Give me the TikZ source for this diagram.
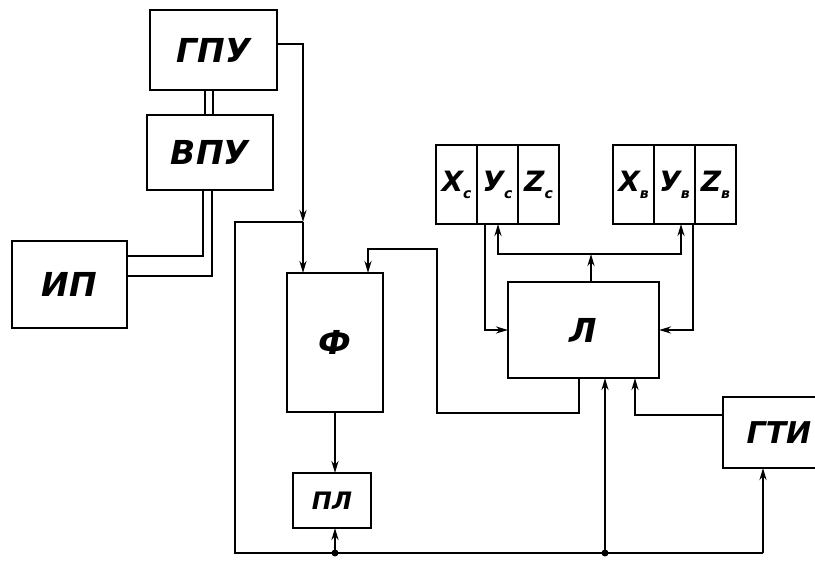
\documentclass[tikz,border=0pt]{standalone}
\usepackage{fontspec}
\setmainfont{DejaVu Sans}
\usetikzlibrary{arrows.meta,positioning}
\newcommand\lowidx[1]{\raisebox{-7pt}{\fontsize{14}{14}\selectfont #1}}

\begin{document}
\begin{tikzpicture}[x=1pt, y=-1pt, line width=2.8pt,
    >={Stealth[length=12pt,width=7pt]},
    blk/.style={draw, inner sep=0pt, outer sep=0pt,
      font=\bfseries\itshape\fontsize{33}{33}\selectfont},
    cell/.style={draw, inner sep=0pt, outer sep=0pt, minimum width=41pt,
      minimum height=79pt, font=\bfseries\itshape\fontsize{28}{28}\selectfont},
    dot/.style={circle, fill, inner sep=0pt, minimum size=7pt}]
  \useasboundingbox (0,0) rectangle (815,561);
  \node[blk, minimum width=127pt, minimum height=80pt] (gpu) at (213.5,50) {ГПУ};
  \node[blk, minimum width=126pt, minimum height=75pt] (vpu) at (210,152.5) {ВПУ};
  \node[blk, minimum width=115pt, minimum height=87pt] (ip) at (69.5,284.5) {ИП};
  \node[blk, minimum width=96pt, minimum height=139pt] (f) at (335,342.5) {Ф};
  \node[blk, minimum width=78pt, minimum height=55pt,
    font=\bfseries\itshape\fontsize{24}{24}\selectfont] (pl) at (332,500.5) {ПЛ};
  \node[blk, minimum width=151pt, minimum height=96pt] (l) at (583.5,330) {Л};
  \node[blk, minimum width=112pt, minimum height=71pt,
    font=\bfseries\itshape\fontsize{30}{30}\selectfont] (gti) at (779,432.5) {ГТИ};
  \node[cell] (xc) at (456.5,184.5) {X\lowidx{c}};
  \node[cell, right=0pt of xc] (yc) {У\lowidx{c}};
  \node[cell, right=0pt of yc] (zc) {Z\lowidx{c}};
  \node[cell] (xb) at (633.5,184.5) {X\lowidx{в}};
  \node[cell, right=0pt of xb] (yb) {У\lowidx{в}};
  \node[cell, right=0pt of yb] (zb) {Z\lowidx{в}};

  \coordinate (jf) at (303,222);
  \coordinate (fb) at (235,553);
  \coordinate (bpl) at (335,553);
  \coordinate (bl) at (605,553);
  \coordinate (bg) at (763,553);
  \coordinate (lg) at (635,378);
  \coordinate (lf) at (579,378);
  \coordinate (c1) at (437,413);
  \coordinate (c2) at (368,249);
  \coordinate (fl) at (368,273);
  \coordinate (lt) at (591,254);
  \coordinate (ya) at (498,224);
  \coordinate (yv) at (681,224);
  \coordinate (xa) at (485,224);
  \coordinate (zv) at (693,224);
  \coordinate (v1) at (203,190);
  \coordinate (v2) at (212,190);

  \draw (205,90) -- (205,115) (213,90) -- (213,115);
  \draw (v1) |- (ip.east |- 0,256);
  \draw (v2) |- (ip.east |- 0,276);
  \draw[->] ([yshift=6pt]gpu.east) -| (jf);
  \draw[->] (jf) -- (jf |- f.north);
  \draw (bg) -- (fb) |- (jf);
  \draw[->] (f.south) -- (f.south |- pl.north);
  \draw[->] (bpl) -- (pl.south -| bpl);
  \draw[->] (bl) -- (l.south -| bl);
  \draw[->] (bg) -- (gti.south -| bg);
  \draw[->] ([yshift=17.5pt]gti.west) -| (lg);
  \draw[->] (lf) |- (c1) |- (c2) -- (fl);
  \draw[->] (l.north -| lt) -- (lt);
  \draw[->] (lt) -| (ya);
  \draw[->] (lt) -| (yv);
  \draw[->] (xa) |- (l.west);
  \draw[->] (zv) |- (l.east);
  \node[dot] at (bpl) {};
  \node[dot] at (bl) {};
\end{tikzpicture}
\end{document}
